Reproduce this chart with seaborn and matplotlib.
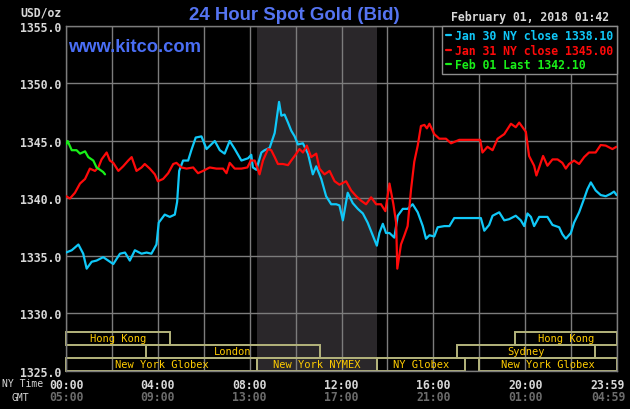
import matplotlib
matplotlib.use("Agg")
import matplotlib.pyplot as plt
import matplotlib.transforms as mtransforms
from matplotlib.patches import Rectangle
import seaborn as sns
import pandas as pd

# --- data (hours since 00:00 NY time, USD/oz) ---
jan30_hours = [0.0, 0.25, 0.54, 0.75, 0.9, 1.12, 1.33, 1.62, 2.06, 2.35,
               2.57, 2.78, 3.0, 3.29, 3.51, 3.72, 3.94, 4.04, 4.3, 4.52,
               4.74, 4.84, 4.93, 5.1, 5.32, 5.46, 5.65, 5.9, 6.12, 6.48,
               6.7, 6.91, 7.13, 7.35, 7.64, 7.93, 8.07, 8.14, 8.29, 8.51,
               8.65, 8.87, 9.09, 9.28, 9.38, 9.52, 9.67, 9.81, 9.96, 10.1,
               10.32, 10.54, 10.75, 10.9, 11.12, 11.33, 11.55, 11.77, 11.91, 12.06,
               12.27, 12.49, 12.71, 12.93, 13.14, 13.36, 13.54, 13.65, 13.8, 13.94,
               14.09, 14.3, 14.45, 14.67, 14.88, 15.1, 15.32, 15.54, 15.68, 15.83,
               16.04, 16.19, 16.48, 16.7, 16.91, 17.28, 17.71, 18.07, 18.22, 18.43,
               18.58, 18.87, 19.09, 19.3, 19.59, 19.81, 19.96, 20.1, 20.25, 20.39,
               20.61, 20.97, 21.19, 21.48, 21.62, 21.77, 21.99, 22.13, 22.35, 22.57,
               22.71, 22.86, 23.07, 23.29, 23.51, 23.72, 23.87, 23.98]
jan30_price = [1335.3, 1335.5, 1336.0, 1335.2, 1333.9, 1334.5, 1334.6, 1334.9, 1334.3, 1335.2,
               1335.3, 1334.6, 1335.5, 1335.2, 1335.3, 1335.2, 1336.0, 1337.9, 1338.6, 1338.4,
               1338.6, 1339.7, 1342.4, 1343.3, 1343.3, 1344.2, 1345.3, 1345.4, 1344.3, 1345.0,
               1344.2, 1343.9, 1345.0, 1344.3, 1343.3, 1343.5, 1343.8, 1342.7, 1342.5, 1344.0,
               1344.2, 1344.4, 1345.7, 1348.4, 1347.2, 1347.3, 1346.6, 1345.9, 1345.4, 1344.7,
               1344.8, 1343.9, 1342.1, 1342.8, 1341.7, 1340.2, 1339.5, 1339.5, 1339.4, 1338.1,
               1340.5, 1339.6, 1339.1, 1338.7, 1337.9, 1336.8, 1335.9, 1337.0, 1337.8, 1337.0,
               1337.0, 1336.6, 1338.5, 1339.1, 1339.1, 1339.5, 1338.8, 1337.6, 1336.5, 1336.8,
               1336.7, 1337.5, 1337.6, 1337.6, 1338.3, 1338.3, 1338.3, 1338.3, 1337.2, 1337.7,
               1338.5, 1338.8, 1338.1, 1338.2, 1338.5, 1338.1, 1337.6, 1338.7, 1338.4, 1337.6,
               1338.4, 1338.4, 1337.7, 1337.5, 1336.9, 1336.5, 1337.0, 1337.9, 1338.8, 1340.0,
               1340.8, 1341.4, 1340.7, 1340.3, 1340.2, 1340.4, 1340.6, 1340.3]

jan31_hours = [0.0, 0.17, 0.39, 0.61, 0.83, 1.04, 1.26, 1.41, 1.55, 1.77,
               1.91, 2.06, 2.28, 2.49, 2.71, 2.86, 3.07, 3.29, 3.43, 3.65,
               3.87, 4.0, 4.23, 4.45, 4.67, 4.81, 5.03, 5.25, 5.54, 5.75,
               5.97, 6.26, 6.55, 6.84, 6.99, 7.13, 7.35, 7.64, 7.9, 8.05,
               8.22, 8.43, 8.58, 8.8, 8.94, 9.09, 9.23, 9.45, 9.67, 9.81,
               9.96, 10.17, 10.32, 10.49, 10.68, 10.9, 11.04, 11.26, 11.48, 11.7,
               11.91, 12.2, 12.42, 12.64, 12.86, 13.07, 13.29, 13.51, 13.72, 13.91,
               14.09, 14.26, 14.38, 14.43, 14.59, 14.74, 14.88, 15.03, 15.17, 15.32,
               15.46, 15.61, 15.72, 15.83, 16.04, 16.26, 16.55, 16.77, 17.13, 17.57,
               18.04, 18.14, 18.36, 18.58, 18.8, 19.09, 19.38, 19.59, 19.74, 20.03,
               20.17, 20.39, 20.49, 20.61, 20.78, 20.97, 21.19, 21.41, 21.62, 21.77,
               21.91, 22.13, 22.35, 22.57, 22.78, 23.07, 23.29, 23.51, 23.8, 23.98]
jan31_price = [1340.2, 1340.0, 1340.5, 1341.3, 1341.7, 1342.6, 1342.4, 1342.7, 1343.4, 1344.0,
               1343.3, 1343.1, 1342.4, 1342.8, 1343.3, 1343.6, 1342.4, 1342.7, 1343.0, 1342.6,
               1342.1, 1341.5, 1341.7, 1342.2, 1343.0, 1343.1, 1342.7, 1342.6, 1342.7, 1342.2,
               1342.4, 1342.7, 1342.6, 1342.6, 1342.2, 1343.1, 1342.6, 1342.6, 1342.7, 1343.3,
               1343.3, 1342.1, 1343.3, 1344.3, 1344.2, 1343.6, 1343.0, 1343.0, 1342.9, 1343.3,
               1343.7, 1344.3, 1344.0, 1344.6, 1343.6, 1343.9, 1342.6, 1342.1, 1342.4, 1341.5,
               1341.2, 1341.5, 1340.7, 1340.2, 1339.8, 1339.5, 1340.1, 1339.5, 1339.5, 1338.9,
               1341.3, 1339.5, 1337.9, 1333.9, 1336.0, 1336.8, 1337.6, 1340.8, 1343.2, 1344.6,
               1346.3, 1346.4, 1346.1, 1346.5, 1345.6, 1345.2, 1345.2, 1344.8, 1345.1, 1345.1,
               1345.1, 1344.0, 1344.5, 1344.2, 1345.2, 1345.6, 1346.5, 1346.2, 1346.6, 1345.8,
               1343.7, 1342.85, 1342.0, 1342.7, 1343.7, 1342.85, 1343.4, 1343.4, 1343.1, 1342.6,
               1343.0, 1343.3, 1343.0, 1343.6, 1344.0, 1344.0, 1344.65, 1344.6, 1344.3, 1344.5]

feb01_hours = [0.0, 0.07, 0.25, 0.46, 0.61, 0.83, 0.97, 1.19, 1.33, 1.48, 1.62, 1.7]
feb01_price = [1344.7, 1345.0, 1344.2, 1344.2, 1343.9, 1344.1, 1343.6, 1343.3, 1342.7, 1342.5,
               1342.3, 1342.1]

series_names = ["Jan 30 NY close", "Jan 31 NY close", "Feb 01 Last"]
series_close = [1338.10, 1345.00, 1342.10]
series_colors = ["#10c8f8", "#ff0a0a", "#19f019"]

# trading sessions drawn along the bottom (start/end hour, row 0 = top)
session_names = ["Hong Kong", "London", "New York Globex", "New York NYMEX",
                 "NY Globex", "New York Globex", "Sydney", "Hong Kong"]
session_start = [0.0, 3.5, 0.0, 8.33, 13.55, 18.0, 17.05, 19.55]
session_end = [4.52, 11.05, 8.33, 13.55, 17.4, 24.0, 23.05, 24.0]
session_row = [0, 1, 2, 2, 2, 2, 1, 0]
nymex_open, nymex_close = 8.33, 13.55

ny_ticks = [0, 4, 8, 12, 16, 20, 24]
ny_labels = ["00:00", "04:00", "08:00", "12:00", "16:00", "20:00", "23:59"]
gmt_labels = ["05:00", "09:00", "13:00", "17:00", "21:00", "01:00", "04:59"]

#%%
'''PLOT'''
sns.set_style("dark", rc={"axes.facecolor": "black", "figure.facecolor": "black",
                          "axes.edgecolor": "#7c7c7c", "grid.color": "#7c7c7c",
                          "text.color": "#d8d8d8", "xtick.color": "#d8d8d8",
                          "ytick.color": "#d8d8d8"})
mono = "DejaVu Sans Mono"
grey_txt = "#d8d8d8"

fig = plt.figure(figsize=(6.3, 4.1), dpi=100)
ax = fig.add_axes([66 / 630, 38 / 410, 551 / 630, 345 / 410])

ax.axvspan(nymex_open, nymex_close, color="#2a272a", zorder=0, lw=0)

all_hours = [jan30_hours, jan31_hours, feb01_hours]
all_prices = [jan30_price, jan31_price, feb01_price]
for name, close, col, hrs, prc in zip(series_names, series_close, series_colors,
                                      all_hours, all_prices):
    df = pd.DataFrame({"hour": hrs, "price": prc})
    sns.lineplot(data=df, x="hour", y="price", color=col, lw=1.6, ax=ax,
                 estimator=None, sort=False, label=f"{name} {close:.2f}", zorder=3)

ax.set_xlim(0, 24)
ax.set_ylim(1325, 1355)
ax.set_xlabel("")
ax.set_ylabel("")
ax.set_xticks(ny_ticks)
ax.set_xticks([2, 6, 10, 14, 18, 22], minor=True)
ax.set_xticklabels(ny_labels, fontfamily=mono, fontweight="bold", fontsize=8.3)
ax.set_yticks([1325, 1330, 1335, 1340, 1345, 1350, 1355])
ax.set_yticklabels([f"{v:.1f}" for v in ax.get_yticks()], fontfamily=mono,
                   fontweight="bold", fontsize=8.3)
ax.tick_params(axis="both", which="both", length=0)
ax.tick_params(axis="x", pad=5)
ax.tick_params(axis="y", pad=3.5)
ax.grid(True, which="both", color="#7c7c7c", lw=1)
ax.set_axisbelow(True)
for sp in ax.spines.values():
    sp.set_color("#7c7c7c")
    sp.set_linewidth(1)

# GMT row under the NY times
trans = mtransforms.blended_transform_factory(ax.transData, ax.transAxes)
for t, g in zip(ny_ticks, gmt_labels):
    ax.text(t, -0.0725, g, transform=trans, ha="center", va="center",
            fontfamily=mono, fontweight="bold", fontsize=8.3, color="#6c6c6c")
shift = mtransforms.ScaledTranslation(-0.09, 0, fig.dpi_scale_trans)
ax.get_xticklabels()[-1].set_transform(ax.get_xticklabels()[-1].get_transform() + shift)
ax.texts[-1].set_transform(ax.texts[-1].get_transform() + shift)

# session boxes
row_h = 13 / 345
for nm, s, e, r in zip(session_names, session_start, session_end, session_row):
    y0 = (2 - r) * row_h
    ax.add_patch(Rectangle((s, y0), e - s, row_h, transform=trans, fill=False,
                           edgecolor="#b4b47c", lw=1.4, zorder=2, clip_on=False))
    ax.text((s + e) / 2, y0 + row_h / 2, nm, transform=trans, ha="center",
            va="center", fontfamily=mono, fontsize=7.5, color="#ffcc00", zorder=4)

leg = ax.legend(loc="upper right", bbox_to_anchor=(1, 1), borderaxespad=0,
                frameon=True, facecolor="black", edgecolor="#8c8c8c", fancybox=False,
                framealpha=1, prop={"family": mono, "size": 8.3, "weight": "bold"},
                labelcolor="linecolor", handlelength=0.5, handletextpad=0.35,
                borderpad=0.3, labelspacing=0.1)
leg.get_frame().set_linewidth(1)
leg.set_zorder(5)

# header texts
fig.text(294 / 630, 1 - 15 / 410, "24 Hour Spot Gold (Bid)", ha="center", va="center",
         fontsize=13.4, fontweight="bold", color="#5574f2", fontfamily="Liberation Sans")
fig.text(68 / 630, 1 - 48 / 410, "www.kitco.com", ha="left", va="center",
         fontsize=13.2, fontweight="bold", color="#4a6ef5", fontfamily="Liberation Sans")
fig.text(609 / 630, 1 - 17 / 410, "February 01, 2018 01:42", ha="right", va="center",
         fontfamily=mono, fontweight="bold", fontsize=8.3, color=grey_txt)
fig.text(62 / 630, 1 - 13 / 410, "USD/oz", ha="right", va="center",
         fontfamily=mono, fontweight="bold", fontsize=8.3, color=grey_txt)
fig.text(2 / 630, 1 - 384 / 410, "NY Time", ha="left", va="center",
         fontfamily=mono, fontsize=7.0, color=grey_txt)
fig.text(29 / 630, 1 - 398 / 410, "GMT", ha="right", va="center",
         fontfamily=mono, fontsize=7.0, color=grey_txt)

plt.savefig("out.png", dpi=100, facecolor="black")
